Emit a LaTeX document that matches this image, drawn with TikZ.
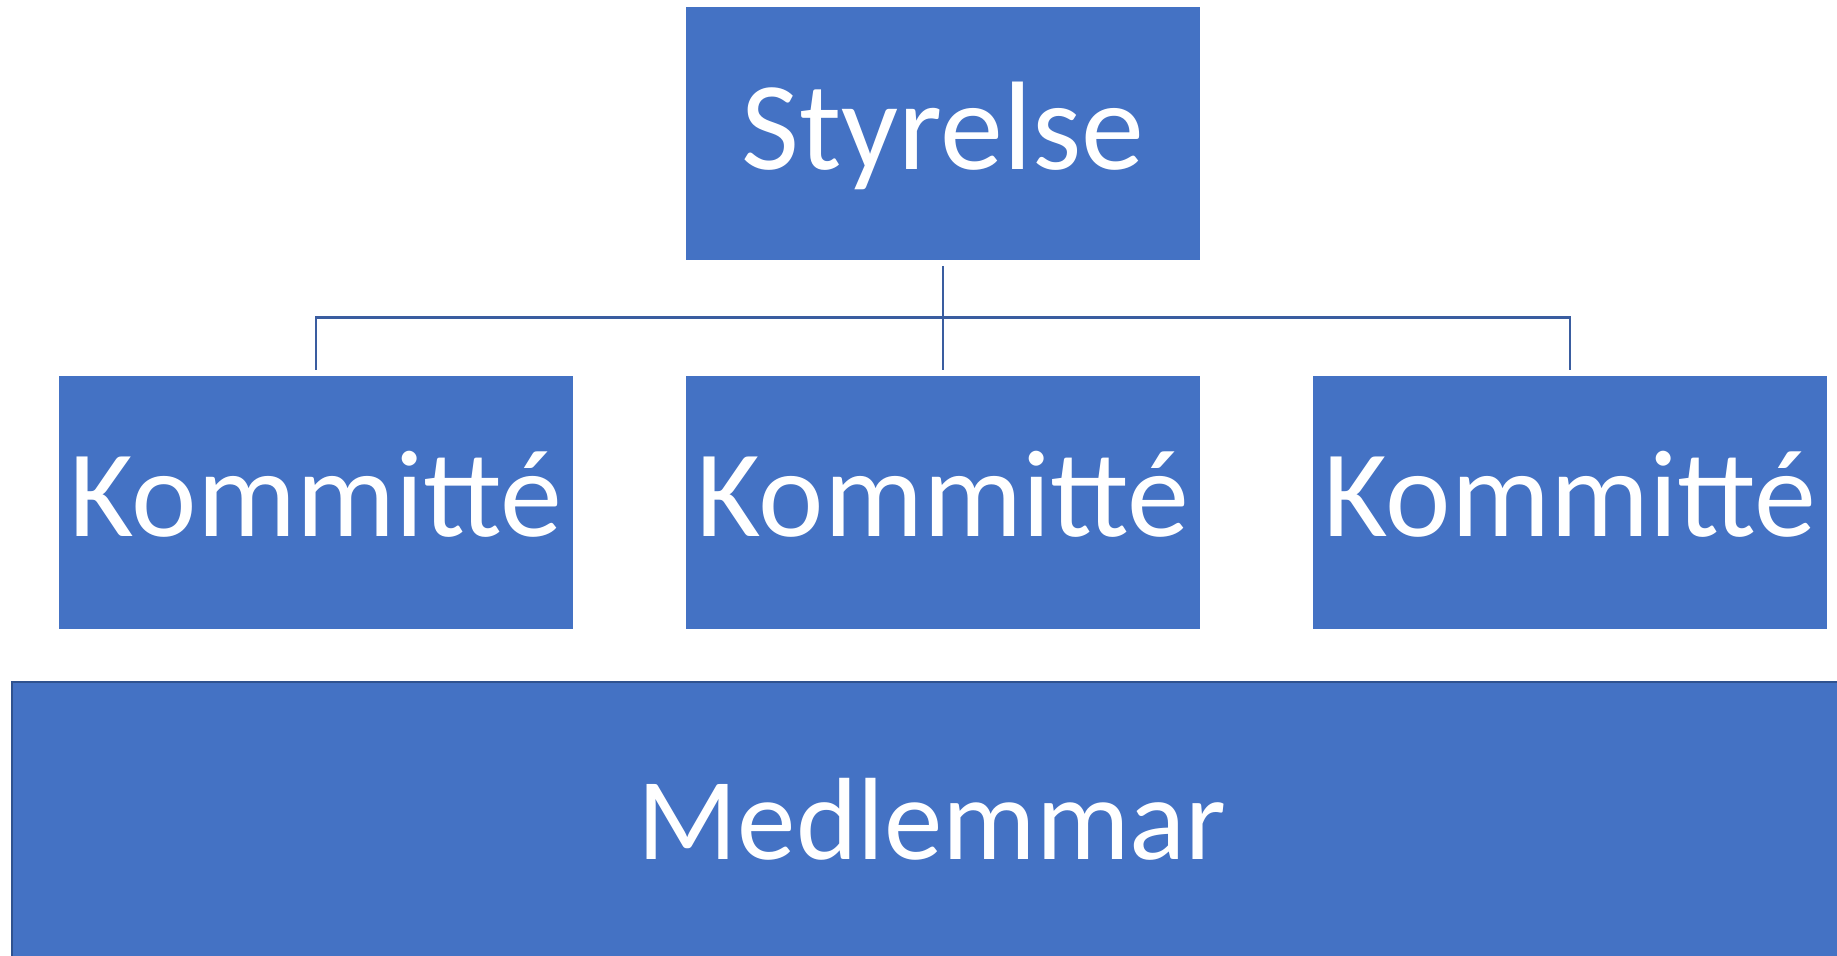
\documentclass[tikz,border=0pt]{standalone}
\usepackage{fontspec}
\setmainfont{Carlito}
\definecolor{boxblue}{HTML}{4472C4}
\definecolor{linkblue}{HTML}{3A5DA0}
\definecolor{edgeblue}{HTML}{2F528F}
\begin{document}
\begin{tikzpicture}[x=0.5pt,y=-0.5pt,
  orgbox/.style={fill=boxblue,draw=white,line width=0.4pt,inner sep=0pt,
    minimum width=257.5pt,minimum height=127pt,text=white,text depth=0pt},
  conn/.style={draw=linkblue,line width=1.4pt}]
\useasboundingbox (0,0) rectangle (1837,956);
\node[orgbox,text height=36.5pt,font=\fontsize{63}{75}\selectfont] (sty) at (943,133.5) {Styrelse};
\node[orgbox,text height=34.6pt,font=\fontsize{62}{74}\selectfont] (k1) at (316,502) {Kommitté};
\node[orgbox,text height=34.6pt,font=\fontsize{62}{74}\selectfont] (k2) at (943,502) {Kommitté};
\node[orgbox,text height=34.6pt,font=\fontsize{62}{74}\selectfont] (k3) at (1570,502) {Kommitté};
\node[orgbox,draw=edgeblue,line width=1pt,minimum width=920pt,minimum height=142pt,
  text height=35pt,font=\fontsize{58.5}{70}\selectfont] (med) at (932,824) {Medlemmar};
\coordinate (bar) at (943,317.5);
\draw[conn] ([yshift=-2.5pt]sty.south) -- ([yshift=2.5pt]k2.north);
\draw[conn] ([yshift=2.5pt]k1.north) |- (bar) -| ([yshift=2.5pt]k3.north);
\end{tikzpicture}
\end{document}
